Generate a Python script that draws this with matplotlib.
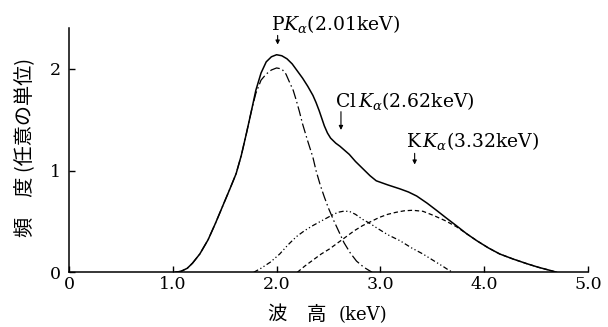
import matplotlib
matplotlib.use("Agg")
import matplotlib.pyplot as plt

# ---- data ----
total_e = [1.02, 1.08, 1.14, 1.19, 1.26, 1.34, 1.41, 1.48, 1.55, 1.61, 1.66, 1.71, 1.76, 1.80, 1.85, 1.90,
           1.95, 2.00, 2.05, 2.10, 2.15, 2.20, 2.25, 2.30, 2.35, 2.38, 2.41, 2.44, 2.46, 2.49, 2.52, 2.57,
           2.61, 2.70, 2.76, 2.83, 2.90, 2.96, 3.07, 3.19, 3.27, 3.35, 3.45, 3.54, 3.64, 3.73, 3.83, 3.93,
           4.04, 4.15, 4.28, 4.41, 4.52, 4.63, 4.70]
total_c = [0.00, 0.01, 0.04, 0.09, 0.18, 0.32, 0.48, 0.65, 0.82, 0.97, 1.15, 1.37, 1.60, 1.79, 1.96, 2.07,
           2.12, 2.14, 2.13, 2.10, 2.05, 1.98, 1.91, 1.83, 1.74, 1.67, 1.59, 1.50, 1.44, 1.37, 1.32, 1.27,
           1.24, 1.16, 1.09, 1.02, 0.95, 0.90, 0.86, 0.82, 0.79, 0.75, 0.68, 0.61, 0.53, 0.46, 0.38, 0.31,
           0.24, 0.18, 0.13, 0.085, 0.05, 0.02, 0.00]

p_e = [1.02, 1.08, 1.14, 1.19, 1.26, 1.34, 1.41, 1.48, 1.55, 1.61, 1.66, 1.71, 1.76, 1.80, 1.85, 1.90,
       1.95, 2.00, 2.05, 2.09, 2.12, 2.16, 2.19, 2.22, 2.25, 2.30, 2.35, 2.38, 2.42, 2.46, 2.50, 2.55,
       2.60, 2.65, 2.71, 2.77, 2.84, 2.92]
p_c = [0.00, 0.01, 0.04, 0.09, 0.18, 0.32, 0.48, 0.65, 0.82, 0.97, 1.15, 1.37, 1.60, 1.76, 1.89, 1.95,
       1.99, 2.01, 2.00, 1.95, 1.88, 1.79, 1.69, 1.58, 1.46, 1.29, 1.13, 1.00, 0.86, 0.74, 0.63, 0.51,
       0.40, 0.29, 0.19, 0.11, 0.05, 0.00]

cl_e = [1.78, 1.85, 1.94, 2.03, 2.11, 2.19, 2.27, 2.35, 2.44, 2.53, 2.59, 2.64, 2.70, 2.76, 2.83, 2.90,
        2.96, 3.07, 3.19, 3.30, 3.41, 3.52, 3.60, 3.66, 3.70]
cl_c = [0.00, 0.04, 0.10, 0.18, 0.27, 0.35, 0.41, 0.46, 0.51, 0.56, 0.59, 0.60, 0.60, 0.57, 0.52, 0.48,
        0.44, 0.37, 0.31, 0.24, 0.18, 0.11, 0.06, 0.02, 0.00]

k_e = [2.20, 2.27, 2.35, 2.43, 2.51, 2.59, 2.67, 2.75, 2.83, 2.91, 2.99, 3.07, 3.15, 3.23, 3.31, 3.41,
       3.51, 3.62, 3.73, 3.83, 3.93, 4.04, 4.15, 4.28, 4.41, 4.52, 4.63, 4.70]
k_c = [0.00, 0.06, 0.12, 0.18, 0.23, 0.29, 0.35, 0.41, 0.46, 0.50, 0.54, 0.57, 0.59, 0.605, 0.61, 0.60,
       0.56, 0.51, 0.45, 0.38, 0.31, 0.24, 0.18, 0.13, 0.085, 0.05, 0.02, 0.00]

x_ticks = [0, 1, 2, 3, 4, 5]
x_ticklabels = ["0", "1.0", "2.0", "3.0", "4.0", "5.0"]
y_ticks = [0, 1, 2]
y_ticklabels = ["0", "1", "2"]

peak_labels = [r"P$K_\alpha$(2.01keV)", r"Cl$\,K_\alpha$(2.62keV)", r"K$\,K_\alpha$(3.32keV)"]
peak_pos = [2.01, 2.62, 3.33]

plt.rcParams["mathtext.fontset"] = "dejavuserif"
serif = "DejaVu Serif"
cjk = ["Noto Sans CJK JP", "DejaVu Sans"]

fig = plt.figure(figsize=(6.08, 3.27), dpi=100)
ax = fig.add_axes([69 / 608, (327 - 272.3) / 327, (588 - 69) / 608, (272.3 - 28.3) / 327])
ax.set_xlim(0, 5)
ax.set_ylim(0, 2.40)

ax.plot(total_e, total_c, color="black", lw=1.1, solid_capstyle="round", solid_joinstyle="round")
ax.plot(p_e, p_c, color="black", lw=0.9, linestyle=(0, (8, 2.5, 1.2, 2.5)))
ax.plot(cl_e, cl_c, color="black", lw=0.9, linestyle=(0, (4, 2, 1, 2, 1, 2)))
ax.plot(k_e, k_c, color="black", lw=0.9, linestyle=(0, (3.5, 2.2)))

for s in ["top", "right"]:
    ax.spines[s].set_visible(False)
for s in ["left", "bottom"]:
    ax.spines[s].set_linewidth(1.1)

ax.set_xticks(x_ticks)
ax.set_xticklabels(x_ticklabels, fontfamily=serif, fontsize=12.5)
ax.set_yticks(y_ticks)
ax.set_yticklabels(y_ticklabels, fontfamily=serif, fontsize=12.5)
ax.tick_params(direction="in", length=4, width=1.0, pad=3)
ax.tick_params(axis="y", pad=6)

# peak annotations
label_xy = [(1.95, 2.44), (2.56, 1.68), (3.25, 1.29)]
arrow_y = [(2.33, 2.24), (1.58, 1.40), (1.17, 1.06)]
for txt, (tx, ty), px, (ya, yb) in zip(peak_labels, label_xy, peak_pos, arrow_y):
    ax.text(tx, ty, txt, fontfamily=serif, fontsize=13.5, ha="left", va="center", clip_on=False)
    ax.annotate("", xy=(px, yb), xytext=(px, ya),
                arrowprops=dict(arrowstyle="-|>", lw=0.8, color="black", mutation_scale=6,
                                shrinkA=0, shrinkB=0))

fig.text(25 / 608, 1 - 147 / 327, "頻　度 (任意の単位)", rotation=90, ha="center", va="center",
         fontfamily=cjk, fontsize=14.5)
fig.text(297 / 608, 1 - 315 / 327, "波　高", ha="center", va="center",
         fontfamily=cjk, fontsize=14)
fig.text(339 / 608, 1 - 315 / 327, "(keV)", ha="left", va="center",
         fontfamily=serif, fontsize=13)

fig.savefig("out.png", dpi=100)
